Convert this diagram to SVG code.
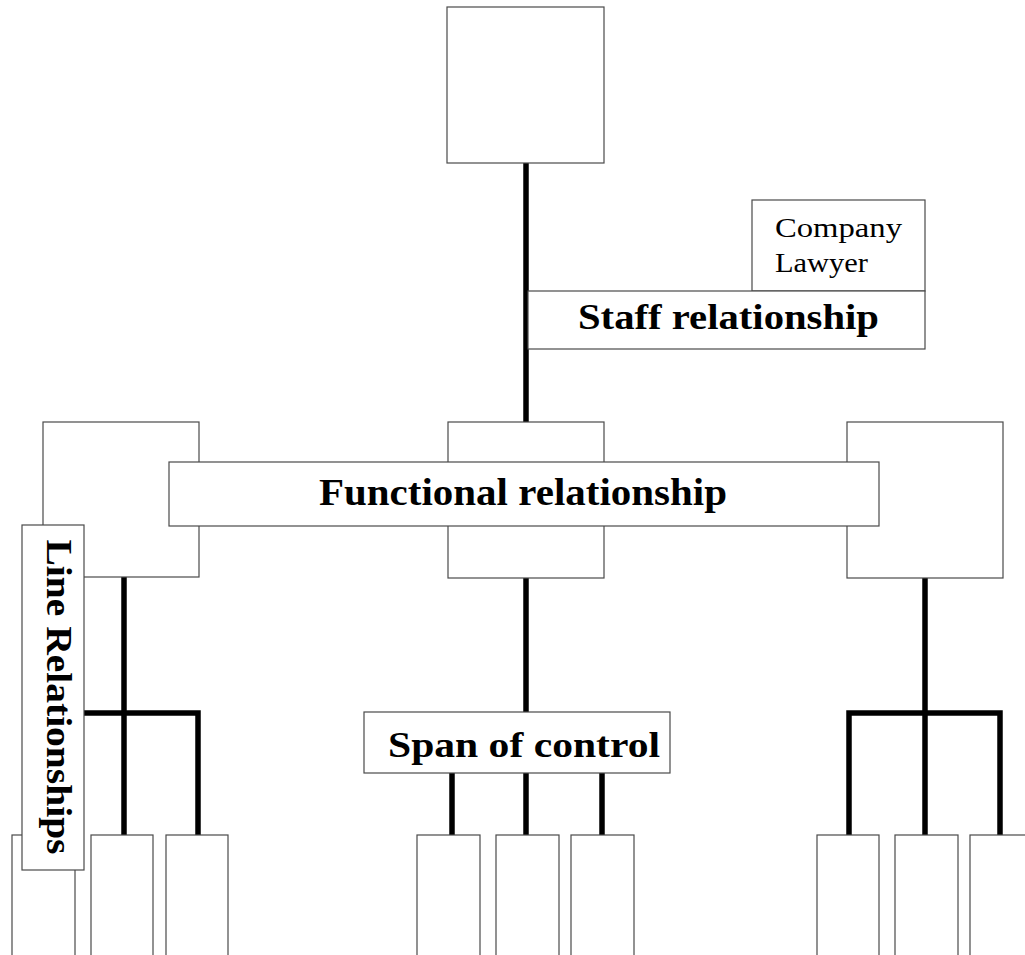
<svg xmlns="http://www.w3.org/2000/svg" width="1025" height="955" viewBox="0 0 1025 955">
  <style>
    .box { fill: #ffffff; stroke: #4a4a4a; stroke-width: 1.2; }
    .line { fill: none; stroke: #000000; stroke-width: 5.5; stroke-linecap: butt; stroke-linejoin: miter; }
    .label { font-family: "Liberation Serif", "Times New Roman", serif; font-weight: bold; fill: #000000; }
    .name { font-family: "Liberation Serif", "Times New Roman", serif; fill: #000000; font-size: 27px; }
  </style>
  <rect x="0" y="0" width="1025" height="955" fill="#ffffff"/>

  <!-- connectors -->
  <g id="connectors">
    <line class="line" x1="526" y1="163" x2="526" y2="422"/>
    <!-- left branch -->
    <line class="line" x1="124" y1="577" x2="124" y2="835"/>
    <polyline class="line" points="50,835 50,713 198,713 198,835"/>
    <!-- centre branch -->
    <line class="line" x1="526" y1="578" x2="526" y2="712"/>
    <line class="line" x1="452" y1="773" x2="452" y2="835"/>
    <line class="line" x1="526" y1="773" x2="526" y2="835"/>
    <line class="line" x1="602" y1="773" x2="602" y2="835"/>
    <!-- right branch -->
    <line class="line" x1="925" y1="578" x2="925" y2="835"/>
    <polyline class="line" points="849,835 849,713 1000,713 1000,835"/>
  </g>

  <!-- top manager -->
  <g id="top"><rect class="box" x="447" y="7" width="157" height="156"/></g>

  <!-- middle managers -->
  <g id="mid-left"><rect class="box" x="43" y="422" width="156" height="155"/></g>
  <g id="mid-centre"><rect class="box" x="448" y="422" width="156" height="156"/></g>
  <g id="mid-right"><rect class="box" x="847" y="422" width="156" height="156"/></g>

  <!-- subordinates -->
  <g id="sub-l1"><rect class="box" x="12" y="835" width="63" height="130"/></g>
  <g id="sub-l2"><rect class="box" x="91" y="835" width="62" height="130"/></g>
  <g id="sub-l3"><rect class="box" x="166" y="835" width="62" height="130"/></g>
  <g id="sub-c1"><rect class="box" x="417" y="835" width="63" height="130"/></g>
  <g id="sub-c2"><rect class="box" x="496" y="835" width="63" height="130"/></g>
  <g id="sub-c3"><rect class="box" x="571" y="835" width="63" height="130"/></g>
  <g id="sub-r1"><rect class="box" x="817" y="835" width="62" height="130"/></g>
  <g id="sub-r2"><rect class="box" x="895" y="835" width="63" height="130"/></g>
  <g id="sub-r3"><rect class="box" x="970" y="835" width="70" height="130"/></g>

  <!-- staff position -->
  <g id="lawyer">
    <rect class="box" x="752" y="200" width="173" height="91"/>
    <text class="name" x="775" y="237" textLength="127" lengthAdjust="spacingAndGlyphs">Company</text>
    <text class="name" x="775" y="272" textLength="93" lengthAdjust="spacingAndGlyphs">Lawyer</text>
  </g>

  <!-- relationship labels -->
  <g id="staff-label">
    <rect class="box" x="528" y="291" width="397" height="58"/>
    <text class="label" x="578" y="329" font-size="36" textLength="301" lengthAdjust="spacingAndGlyphs">Staff relationship</text>
  </g>
  <g id="functional-label">
    <rect class="box" x="169" y="462" width="710" height="64"/>
    <text class="label" x="319" y="505" font-size="38" textLength="408" lengthAdjust="spacingAndGlyphs">Functional relationship</text>
  </g>
  <g id="span-label">
    <rect class="box" x="364" y="712" width="306" height="61"/>
    <text class="label" x="388" y="757" font-size="36" textLength="272" lengthAdjust="spacingAndGlyphs">Span of control</text>
  </g>
  <g id="line-label">
    <rect class="box" x="22" y="525" width="62" height="345"/>
    <text class="label" transform="translate(47,697) rotate(90)" text-anchor="middle" font-size="35" textLength="315" lengthAdjust="spacingAndGlyphs">Line Relationships</text>
  </g>
</svg>
